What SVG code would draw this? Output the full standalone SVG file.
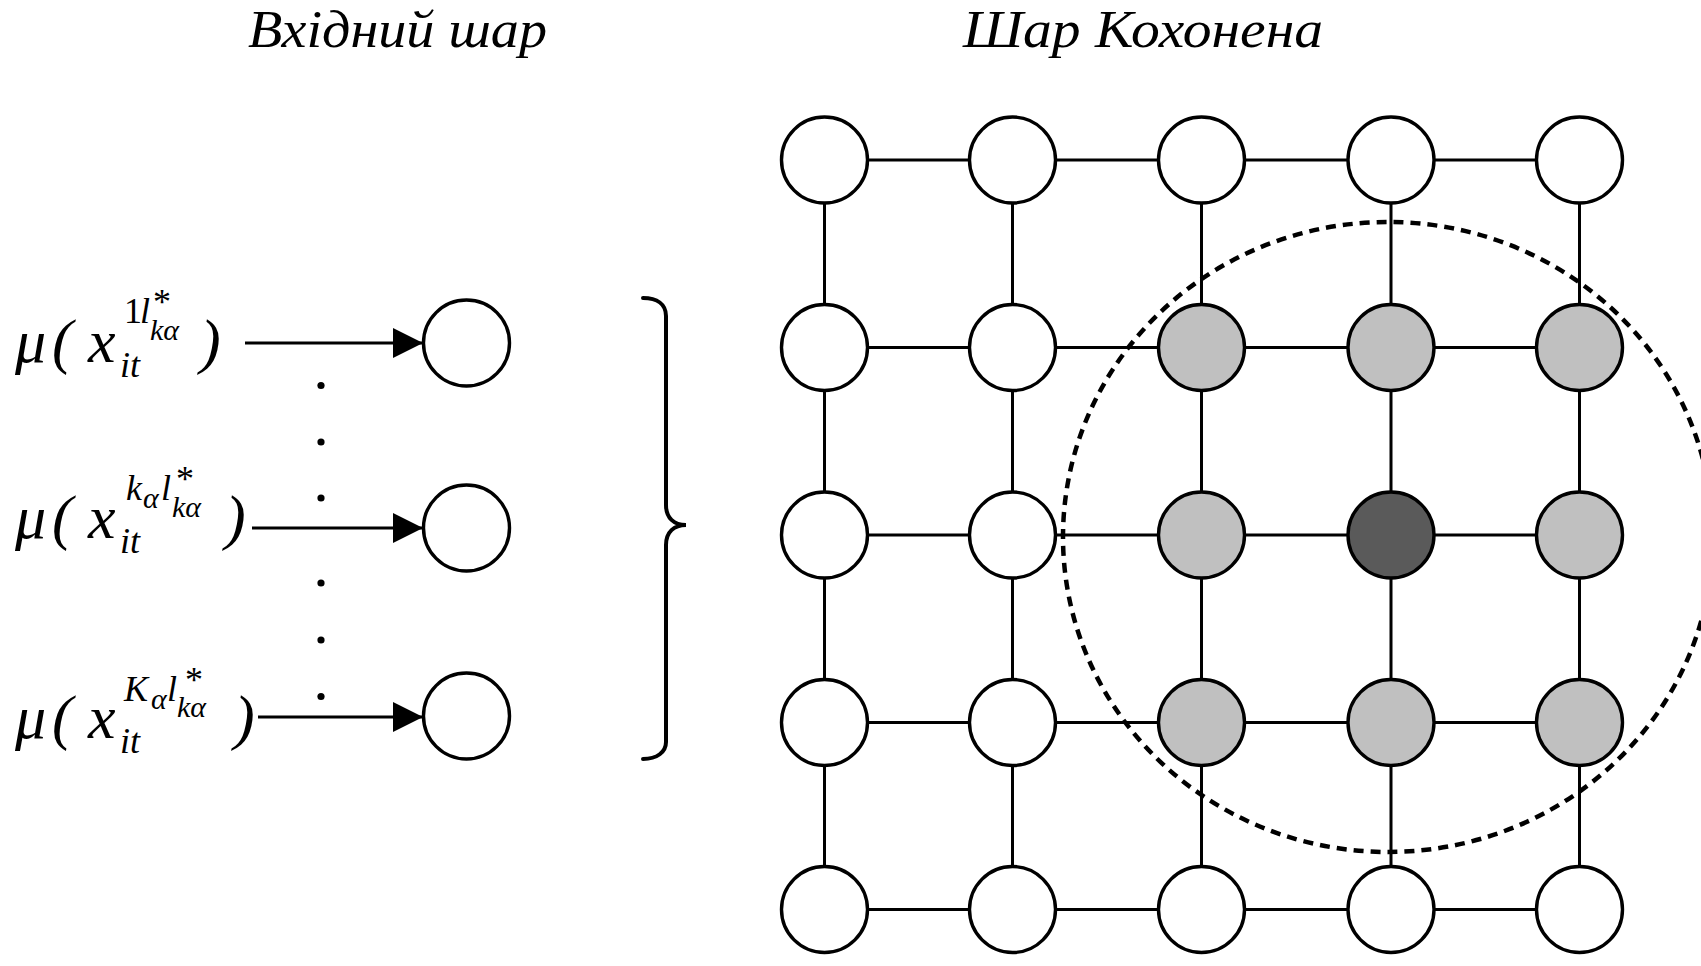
<svg xmlns="http://www.w3.org/2000/svg" width="1701" height="966" viewBox="0 0 1701 966">
<defs>
<style>
.t{font-family:"Liberation Serif","Times New Roman",serif;fill:#000}
.i{font-style:italic}
.title{font-size:52px;font-style:italic}
.m{font-size:62px}
.s1{font-size:36px}
.s2{font-size:30px}
.ln{stroke:#000;stroke-width:3;fill:none}
.nd{stroke:#000;stroke-width:3.4;fill:#fff}
.g{fill:#c0c0c0}
.d{fill:#5a5a5a}
</style>
<marker id="ah" markerUnits="userSpaceOnUse" markerWidth="32" markerHeight="32" refX="30" refY="15" orient="auto">
<path d="M0,0 L30,15 L0,30 Z" fill="#000"/>
</marker>
</defs>
<rect width="1701" height="966" fill="#fff"/>

<g id="titles">
<text class="t title" x="248" y="47" textLength="299" lengthAdjust="spacingAndGlyphs">Вхідний шар</text>
<text class="t title" x="963" y="47" textLength="360" lengthAdjust="spacingAndGlyphs">Шар Кохонена</text>
</g>

<g id="label1">
<text class="t"><tspan class="i m" x="15" y="362">μ</tspan><tspan class="i m" x="52" y="362">(</tspan><tspan class="i m" x="88" y="362">x</tspan><tspan class="i s1" x="120" y="377">it</tspan><tspan class="s1" x="124" y="323">1</tspan><tspan class="i s1" x="140" y="323">l</tspan><tspan class="s1" x="153" y="314">*</tspan><tspan class="i s2" x="150" y="340">kα</tspan><tspan class="i m" x="200" y="362">)</tspan></text>
</g>
<g id="label2">
<text class="t"><tspan class="i m" x="15" y="538">μ</tspan><tspan class="i m" x="52" y="538">(</tspan><tspan class="i m" x="88" y="538">x</tspan><tspan class="i s1" x="120" y="553">it</tspan><tspan class="i s1" x="126" y="500">k</tspan><tspan class="i s2" x="143" y="508">α</tspan><tspan class="i s1" x="161" y="500">l</tspan><tspan class="s1" x="176" y="491">*</tspan><tspan class="i s2" x="172" y="517">kα</tspan><tspan class="i m" x="225" y="538">)</tspan></text>
</g>
<g id="label3">
<text class="t"><tspan class="i m" x="15" y="738">μ</tspan><tspan class="i m" x="52" y="738">(</tspan><tspan class="i m" x="88" y="738">x</tspan><tspan class="i s1" x="120" y="753">it</tspan><tspan class="i s1" x="124" y="701">K</tspan><tspan class="i s2" x="151" y="709">α</tspan><tspan class="i s1" x="167" y="701">l</tspan><tspan class="s1" x="185" y="692">*</tspan><tspan class="i s2" x="177" y="717">kα</tspan><tspan class="i m" x="234" y="738">)</tspan></text>
</g>

<g id="dots" fill="#000">
<circle cx="321" cy="385.5" r="3.6"/>
<circle cx="321" cy="442" r="3.6"/>
<circle cx="321" cy="498" r="3.6"/>
<circle cx="321" cy="583" r="3.6"/>
<circle cx="321" cy="640" r="3.6"/>
<circle cx="321" cy="696.5" r="3.6"/>
</g>

<g id="connectors">
<line class="ln" x1="245" y1="343" x2="423" y2="343" marker-end="url(#ah)"/>
<line class="ln" x1="252" y1="528" x2="423" y2="528" marker-end="url(#ah)"/>
<line class="ln" x1="258" y1="717" x2="423" y2="717" marker-end="url(#ah)"/>
<path class="ln" d="M824.5,160 H1579.5 M824.5,347.5 H1579.5 M824.5,535 H1579.5 M824.5,722.5 H1579.5 M824.5,909.5 H1579.5"/>
<path class="ln" d="M824.5,160 V909.5 M1012.5,160 V909.5 M1201.5,160 V909.5 M1391,160 V909.5 M1579.5,160 V909.5"/>
</g>

<g id="brace">
<path d="M643,298 C657,298 666,304 666,316 L666,505 C666,518 674,525 686,525 C674,525 666,532 666,545 L666,742 C666,752 657,759 643,759" fill="none" stroke="#000" stroke-width="4" stroke-linecap="round"/>
</g>

<g id="input-nodes">
<g id="in1"><circle class="nd" cx="466.5" cy="343" r="43"/></g>
<g id="in2"><circle class="nd" cx="466.5" cy="528" r="43"/></g>
<g id="in3"><circle class="nd" cx="466.5" cy="716" r="43"/></g>
</g>

<g id="kohonen-nodes">
<g id="n11"><circle class="nd" cx="824.5" cy="160" r="43"/></g>
<g id="n12"><circle class="nd" cx="1012.5" cy="160" r="43"/></g>
<g id="n13"><circle class="nd" cx="1201.5" cy="160" r="43"/></g>
<g id="n14"><circle class="nd" cx="1391" cy="160" r="43"/></g>
<g id="n15"><circle class="nd" cx="1579.5" cy="160" r="43"/></g>
<g id="n21"><circle class="nd" cx="824.5" cy="347.5" r="43"/></g>
<g id="n22"><circle class="nd" cx="1012.5" cy="347.5" r="43"/></g>
<g id="n23"><circle class="nd g" cx="1201.5" cy="347.5" r="43"/></g>
<g id="n24"><circle class="nd g" cx="1391" cy="347.5" r="43"/></g>
<g id="n25"><circle class="nd g" cx="1579.5" cy="347.5" r="43"/></g>
<g id="n31"><circle class="nd" cx="824.5" cy="535" r="43"/></g>
<g id="n32"><circle class="nd" cx="1012.5" cy="535" r="43"/></g>
<g id="n33"><circle class="nd g" cx="1201.5" cy="535" r="43"/></g>
<g id="n34"><circle class="nd d" cx="1391" cy="535" r="43"/></g>
<g id="n35"><circle class="nd g" cx="1579.5" cy="535" r="43"/></g>
<g id="n41"><circle class="nd" cx="824.5" cy="722.5" r="43"/></g>
<g id="n42"><circle class="nd" cx="1012.5" cy="722.5" r="43"/></g>
<g id="n43"><circle class="nd g" cx="1201.5" cy="722.5" r="43"/></g>
<g id="n44"><circle class="nd g" cx="1391" cy="722.5" r="43"/></g>
<g id="n45"><circle class="nd g" cx="1579.5" cy="722.5" r="43"/></g>
<g id="n51"><circle class="nd" cx="824.5" cy="909.5" r="43"/></g>
<g id="n52"><circle class="nd" cx="1012.5" cy="909.5" r="43"/></g>
<g id="n53"><circle class="nd" cx="1201.5" cy="909.5" r="43"/></g>
<g id="n54"><circle class="nd" cx="1391" cy="909.5" r="43"/></g>
<g id="n55"><circle class="nd" cx="1579.5" cy="909.5" r="43"/></g>
</g>

<g id="neighbourhood">
<ellipse cx="1388" cy="537" rx="325" ry="315" fill="none" stroke="#000" stroke-width="4.5" stroke-dasharray="10 7"/>
</g>
</svg>
